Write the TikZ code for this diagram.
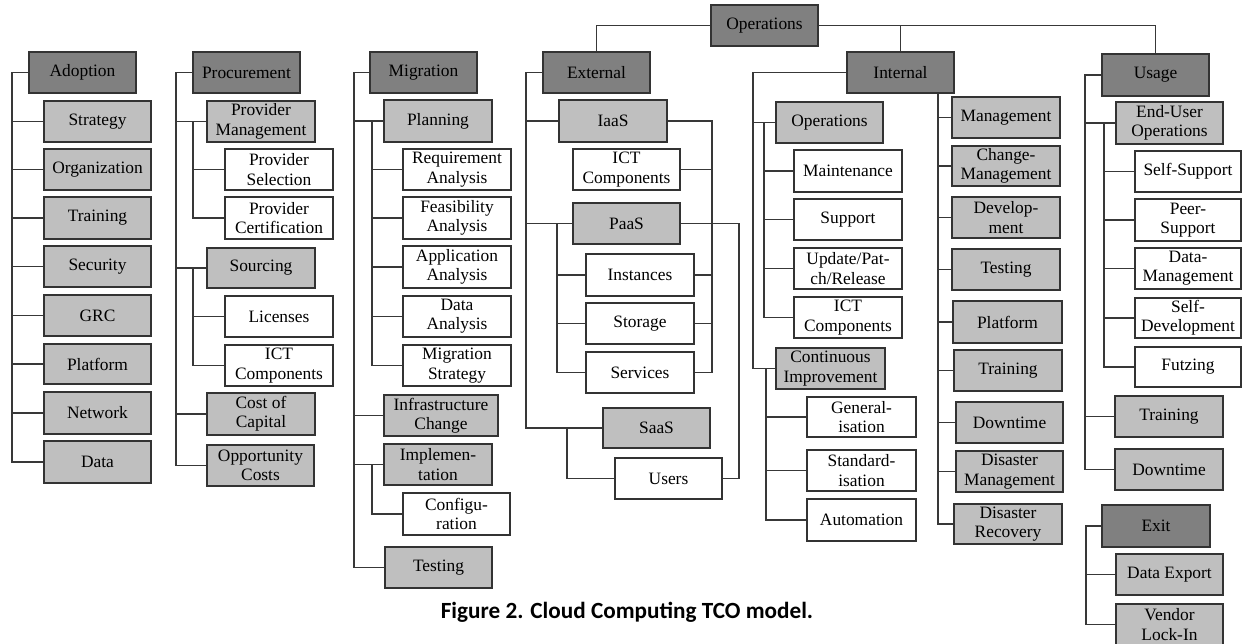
\documentclass[tikz,border=0pt]{standalone}
\usepackage{fontspec}
\setmainfont{Liberation Serif}
\newfontfamily\capfont{Carlito}
\begin{document}
\begin{tikzpicture}[x=0.02cm,y=-0.02cm,
  base/.style={draw=black!80,line width=0.7pt,inner sep=0pt,align=center,
    font=\fontsize{9.9}{11}\selectfont},
  dbox/.style={base,fill=black!50},
  lbox/.style={base,fill=black!25},
  wbox/.style={base,fill=white},
  conn/.style={draw=black!78,line width=0.6pt}]
\useasboundingbox (0,0) rectangle (1242,644);
\newcommand\bx[7]{%
  \pgfmathsetmacro\bw{(#5-#3)*0.02}%
  \pgfmathsetmacro\bh{(#6-#4)*0.02}%
  \node[#1,minimum width=\bw cm,minimum height=\bh cm] (#2) at ({(#3+#5)/2},{(#4+#6)/2}) {#7};}
% ---------- Adoption
\bx{dbox}{adoption}{29}{52}{136}{93}{Adoption}
\bx{lbox}{strategy}{44}{101}{151}{142}{Strategy}
\bx{lbox}{organization}{44}{149}{151}{190}{Organization}
\bx{lbox}{trainingA}{44}{197}{151}{239}{Training}
\bx{lbox}{security}{44}{246}{151}{287}{Security}
\bx{lbox}{grc}{44}{295}{151}{336}{GRC}
\bx{lbox}{platformA}{44}{344}{151}{384}{Platform}
\bx{lbox}{network}{44}{392}{151}{434}{Network}
\bx{lbox}{data}{44}{441}{151}{483}{Data}
% ---------- Procurement
\bx{dbox}{procurement}{193}{52}{300}{93}{Procurement}
\bx{lbox}{provmgmt}{207}{101}{315}{142}{Provider\\Management}
\bx{wbox}{provsel}{225}{149}{333}{190}{Provider\\Selection}
\bx{wbox}{provcert}{225}{197}{333}{239}{Provider\\Certification}
\bx{lbox}{sourcing}{207}{248}{315}{288}{Sourcing}
\bx{wbox}{licenses}{225}{296}{333}{337}{Licenses}
\bx{wbox}{ictP}{225}{345}{333}{386}{ICT\\Components}
\bx{lbox}{capital}{207}{393}{315}{435}{Cost of\\Capital}
\bx{lbox}{opportunity}{207}{445}{314}{486}{Opportunity\\Costs}
% ---------- Migration
\bx{dbox}{migration}{370}{52}{477}{93}{Migration}
\bx{lbox}{planning}{384}{100}{492}{142}{Planning}
\bx{wbox}{reqan}{403}{149}{511}{190}{Requirement\\Analysis}
\bx{wbox}{feas}{403}{197}{511}{239}{Feasibility\\Analysis}
\bx{wbox}{appan}{403}{246}{511}{288}{Application\\Analysis}
\bx{wbox}{dataan}{403}{296}{511}{337}{Data\\Analysis}
\bx{wbox}{migstrat}{403}{345}{511}{386}{Migration\\Strategy}
\bx{lbox}{infra}{384}{395}{498}{436}{Infrastructure\\Change}
\bx{lbox}{impl}{384}{444}{492}{485}{Implemen-\\tation}
\bx{wbox}{config}{403}{493}{510}{535}{Configu-\\ration}
\bx{lbox}{testingM}{385}{547}{492}{588}{Testing}
% ---------- Operations root
\bx{dbox}{ops}{711}{5}{818}{46}{Operations}
% ---------- External
\bx{dbox}{external}{543}{52}{650}{93}{External}
\bx{lbox}{iaas}{559}{100}{667}{142}{IaaS}
\bx{wbox}{ictI}{573}{149}{680}{190}{ICT\\Components}
\bx{lbox}{paas}{573}{203}{680}{244}{PaaS}
\bx{wbox}{instances}{586}{254}{694}{296}{Instances}
\bx{wbox}{storage}{586}{303}{694}{344}{Storage}
\bx{wbox}{services}{586}{352}{694}{393}{Services}
\bx{lbox}{saas}{603}{408}{710}{448}{SaaS}
\bx{wbox}{users}{615}{458}{722}{499}{Users}
% ---------- Internal
\bx{dbox}{internal}{847}{52}{954}{93}{Internal}
\bx{lbox}{opsI}{776}{102}{883}{143}{Operations}
\bx{wbox}{maint}{794}{150}{902}{192}{Maintenance}
\bx{wbox}{support}{794}{199}{902}{240}{Support}
\bx{wbox}{update}{794}{248}{902}{289}{Update/Pat-\\ch/Release}
\bx{wbox}{ictO}{794}{297}{902}{338}{ICT\\Components}
\bx{lbox}{ci}{776}{348}{885}{389}{Continuous\\Improvement}
\bx{wbox}{general}{807}{397}{916}{437}{General-\\isation}
\bx{wbox}{standard}{807}{450}{916}{491}{Standard-\\isation}
\bx{wbox}{automation}{807}{499}{916}{541}{Automation}
\bx{lbox}{management}{952}{97}{1060}{138}{Management}
\bx{lbox}{change}{952}{146}{1060}{186}{Change-\\Management}
\bx{lbox}{develop}{952}{197}{1060}{238}{Develop-\\ment}
\bx{lbox}{testingI}{952}{249}{1060}{290}{Testing}
\bx{lbox}{platformI}{953}{301}{1062}{343}{Platform}
\bx{lbox}{trainingI}{954}{350}{1062}{391}{Training}
\bx{lbox}{downtimeI}{956}{402}{1063}{443}{Downtime}
\bx{lbox}{dismgmt}{956}{451}{1063}{492}{Disaster\\Management}
\bx{lbox}{disrec}{954}{504}{1062}{544}{Disaster\\Recovery}
% ---------- Usage
\bx{dbox}{usage}{1102}{54}{1209}{96}{Usage}
\bx{lbox}{euops}{1116}{102}{1223}{144}{End-User\\Operations}
\bx{wbox}{selfsup}{1135}{151}{1241}{192}{Self-Support}
\bx{wbox}{peer}{1135}{199}{1241}{241}{Peer-\\Support}
\bx{wbox}{datamgmt}{1135}{248}{1241}{289}{Data-\\Management}
\bx{wbox}{selfdev}{1135}{298}{1241}{338}{Self-\\Development}
\bx{wbox}{futzing}{1135}{347}{1241}{387}{Futzing}
\bx{lbox}{trainingU}{1115}{396}{1223}{437}{Training}
\bx{lbox}{downtimeU}{1115}{449}{1223}{490}{Downtime}
\bx{dbox}{exitn}{1102}{505}{1210}{547}{Exit}
\bx{lbox}{dataexp}{1116}{554}{1223}{595}{Data Export}
\bx{lbox}{vendor}{1116}{604}{1223}{645}{Vendor\\Lock-In}
% ---------- trunk coordinates
\coordinate (tA) at (12,0);
\coordinate (tP) at (176,0);
\coordinate (sP) at (193,0);
\coordinate (tM) at (354,0);
\coordinate (sM) at (372,0);
\coordinate (tE) at (526,0);
\coordinate (sE) at (557,0);
\coordinate (uE) at (567,0);
\coordinate (rI) at (712,0);
\coordinate (rP) at (739,0);
\coordinate (tI) at (753,0);
\coordinate (sO) at (764,0);
\coordinate (sC) at (766,0);
\coordinate (tR) at (938,0);
\coordinate (tU) at (1085,0);
\coordinate (sU) at (1104,0);
\coordinate (tX) at (1086,0);
% ---------- connectors: root
\draw[conn] (ops.west) -| (external.north);
\draw[conn] (ops.east) -| (usage.north);
\draw[conn] (internal.north |- ops.east) -- (internal.north);
% Adoption
\draw[conn] (adoption.west) -| (tA |- data.west) -- (data.west);
\foreach \n in {strategy,organization,trainingA,security,grc,platformA,network}
  \draw[conn] (tA |- \n.west) -- (\n.west);
% Procurement
\draw[conn] (procurement.west) -| (tP |- opportunity.west) -- (opportunity.west);
\foreach \n in {provmgmt,sourcing,capital}
  \draw[conn] (tP |- \n.west) -- (\n.west);
\draw[conn] (sP |- provmgmt.west) |- (provcert.west);
\draw[conn] (sP |- provsel.west) -- (provsel.west);
\draw[conn] (sP |- sourcing.west) |- (ictP.west);
\draw[conn] (sP |- licenses.west) -- (licenses.west);
% Migration
\draw[conn] (migration.west) -| (tM |- testingM.west) -- (testingM.west);
\foreach \n in {planning,infra,impl}
  \draw[conn] (tM |- \n.west) -- (\n.west);
\draw[conn] (sM |- planning.west) |- (migstrat.west);
\foreach \n in {reqan,feas,appan,dataan}
  \draw[conn] (sM |- \n.west) -- (\n.west);
\draw[conn] (sM |- impl.west) |- (config.west);
% External
\draw[conn] (external.west) -| (tE |- saas.west) -- (saas.west);
\foreach \n in {iaas,paas}
  \draw[conn] (tE |- \n.west) -- (\n.west);
\draw[conn] (sE |- paas.west) |- (services.west);
\foreach \n in {instances,storage}
  \draw[conn] (sE |- \n.west) -- (\n.west);
\draw[conn] (uE |- saas.west) |- (users.west);
\draw[conn] (iaas.east) -| (rI |- services.east) -- (services.east);
\foreach \n in {ictI,instances,storage}
  \draw[conn] (rI |- \n.east) -- (\n.east);
\draw[conn] (paas.east) -| (rP |- users.east) -- (users.east);
% Internal
\draw[conn] (internal.west) -| (tI |- ci.west) -- (ci.west);
\draw[conn] (tI |- opsI.west) -- (opsI.west);
\draw[conn] (sO |- opsI.west) |- (ictO.west);
\foreach \n in {maint,support,update}
  \draw[conn] (sO |- \n.west) -- (\n.west);
\draw[conn] (sC |- ci.west) |- (automation.west);
\foreach \n in {general,standard}
  \draw[conn] (sC |- \n.west) -- (\n.west);
\draw[conn] (tR |- internal.south) |- (disrec.west);
\foreach \n in {management,change,develop,testingI,platformI,trainingI,downtimeI,dismgmt}
  \draw[conn] (tR |- \n.west) -- (\n.west);
% Usage
\draw[conn] (usage.west) -| (tU |- downtimeU.west) -- (downtimeU.west);
\foreach \n in {euops,trainingU}
  \draw[conn] (tU |- \n.west) -- (\n.west);
\draw[conn] (sU |- euops.west) |- (futzing.west);
\foreach \n in {selfsup,peer,datamgmt,selfdev}
  \draw[conn] (sU |- \n.west) -- (\n.west);
% Exit
\draw[conn] (exitn.west) -| (tX |- vendor.west) -- (vendor.west);
\draw[conn] (tX |- dataexp.west) -- (dataexp.west);
% caption
\node[font=\capfont\bfseries\fontsize{13.2}{15}\selectfont,inner sep=0pt] (caption) at (627,612) {Figure 2. Cloud Computing TCO model.};
\end{tikzpicture}
\end{document}
